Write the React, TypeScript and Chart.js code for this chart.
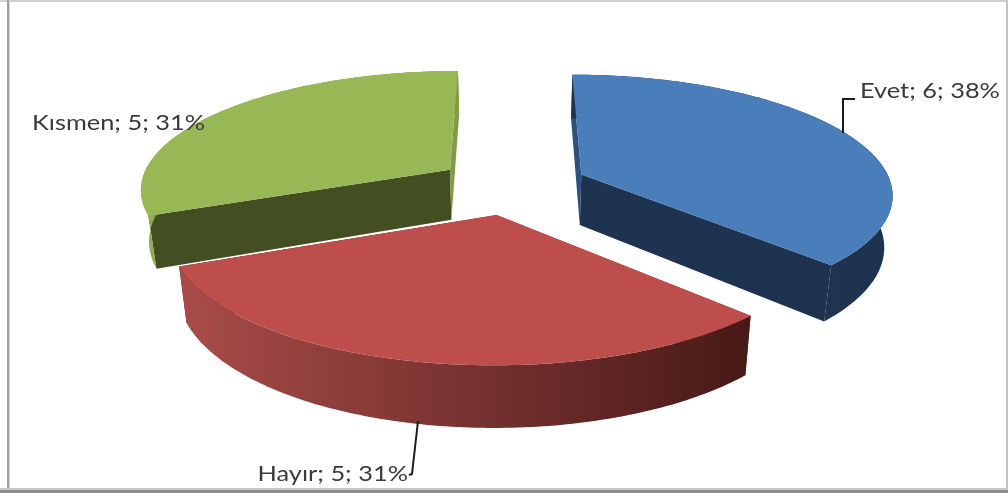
import React, { useEffect, useRef } from "react";
import { Chart, registerables } from "chart.js";

Chart.register(...registerables);

// Survey answers and their counts
const categories = ["Evet", "Hayır", "Kısmen"];
const counts = [6, 5, 5];

// Slice colours: top face, visible wall, cut faces at the slice's start and end edges
const topColors = ["#4a7ebb", "#bd4e4b", "#98b856"];
const wallColors = [
  ["#1e3450", "#1e3350"],
  ["#a94c49", "#471917"],
  ["#8fac4e", "#7f9c45"],
];
const startFaceColors = ["#2d517c", "#7a2e2c", "#434f22"];
const endFaceColors = ["#1e3350", "#4a1a18", "#7f9b47"];

// Projection of the tilted disc on the canvas
const view = {
  cx: 512,
  cy: 185.5,
  rx: 310.5,
  ry: 118,
  perspective: 0.15,
  explode: 0.245,
  depth: 51,
  baseShrink: 0.978,
};

type Pt = { x: number; y: number };

function project(u: number, v: number, base: boolean): Pt {
  const w = 1 - view.perspective * v;
  const sx = (view.rx * u) / w;
  const sy = (view.ry * v) / w;
  return base
    ? { x: view.cx + sx * view.baseShrink, y: view.cy + sy + view.depth / w }
    : { x: view.cx + sx, y: view.cy + sy };
}

function polygon(ctx: CanvasRenderingContext2D, pts: Pt[]) {
  ctx.beginPath();
  pts.forEach((p, i) => (i ? ctx.lineTo(p.x, p.y) : ctx.moveTo(p.x, p.y)));
  ctx.closePath();
}

// Replaces the flat arc drawing with an extruded slice for each Chart.js arc element
const tiltedPie = {
  id: "tiltedPie",
  beforeDatasetDraw(chart: any) {
    const ctx: CanvasRenderingContext2D = chart.ctx;
    const arcs = chart.getDatasetMeta(0).data.map((arc: any, index: number) => {
      const mid = (arc.startAngle + arc.endAngle) / 2;
      return { arc, index, mid };
    });
    arcs.sort((a: any, b: any) => Math.sin(a.mid) - Math.sin(b.mid));

    for (const { arc, index, mid } of arcs) {
      const ou = view.explode * Math.cos(mid);
      const ov = view.explode * Math.sin(mid);
      const rim = (base: boolean) => {
        const pts: Pt[] = [];
        const steps = 120;
        for (let i = 0; i <= steps; i++) {
          const a = arc.startAngle + ((arc.endAngle - arc.startAngle) * i) / steps;
          pts.push(project(ou + Math.cos(a), ov + Math.sin(a), base));
        }
        return pts;
      };
      const topRim = rim(false);
      const baseRim = rim(true);
      const apexTop = project(ou, ov, false);
      const apexBase = project(ou, ov, true);
      const last = topRim.length - 1;

      // Cut faces go first so the outer wall and the top sit over them
      ctx.fillStyle = startFaceColors[index];
      polygon(ctx, [apexTop, topRim[0], baseRim[0], apexBase]);
      ctx.fill();

      ctx.fillStyle = endFaceColors[index];
      polygon(ctx, [apexTop, topRim[last], baseRim[last], apexBase]);
      ctx.fill();

      const xs = topRim.concat(baseRim).map((p) => p.x);
      const wall = ctx.createLinearGradient(Math.min(...xs), 0, Math.max(...xs), 0);
      wall.addColorStop(0, wallColors[index][0]);
      wall.addColorStop(1, wallColors[index][1]);
      ctx.fillStyle = wall;
      polygon(ctx, topRim.concat(baseRim.slice().reverse()));
      ctx.fill();

      ctx.fillStyle = arc.options.backgroundColor;
      polygon(ctx, [apexTop, ...topRim]);
      ctx.fill();
    }
    return false;
  },
  afterDatasetsDraw(chart: any) {
    const ctx: CanvasRenderingContext2D = chart.ctx;
    const total = counts.reduce((s, n) => s + n, 0);
    const anchors = [
      { x: 860, y: 98, align: "left" },
      { x: 408, y: 481, align: "right" },
      { x: 32, y: 130, align: "left" },
    ];
    ctx.save();
    ctx.strokeStyle = "#1c1c1c";
    ctx.lineWidth = 2;
    ctx.beginPath();
    ctx.moveTo(843, 133);
    ctx.lineTo(843, 99);
    ctx.lineTo(855, 99);
    ctx.moveTo(418, 421);
    ctx.lineTo(412, 474);
    ctx.lineTo(409, 475);
    ctx.stroke();

    ctx.fillStyle = "#3a3a3a";
    ctx.font = "21.5px Lato";
    categories.forEach((name, i) => {
      const pct = Math.round((counts[i] / total) * 100);
      const a = anchors[i];
      ctx.save();
      ctx.translate(a.x, a.y);
      ctx.scale(1.18, 1);
      ctx.textAlign = a.align as CanvasTextAlign;
      ctx.fillText(`${name}; ${counts[i]}; ${pct}%`, 0, 0);
      ctx.restore();
    });
    ctx.restore();
  },
};

// Thin frame around the chart
const frame = {
  id: "frame",
  beforeDraw(chart: any) {
    const ctx: CanvasRenderingContext2D = chart.ctx;
    const { width, height } = chart;
    ctx.save();
    ctx.fillStyle = "#ffffff";
    ctx.fillRect(0, 0, width, height);
    ctx.fillStyle = "#d0d0d0";
    ctx.fillRect(0, 0, width, 2);
    ctx.fillStyle = "#a0a0a0";
    ctx.fillRect(7, 0, 2, height);
    ctx.fillStyle = "#d8d8d8";
    ctx.fillRect(9, 0, 1, height);
    ctx.fillStyle = "#c4c4c4";
    ctx.fillRect(width - 2, 0, 2, height);
    ctx.fillStyle = "#c8c8c8";
    ctx.fillRect(0, height - 5, width, 2);
    ctx.fillStyle = "#8c8c8c";
    ctx.fillRect(0, height - 3, width, 3);
    ctx.restore();
  },
};

export default function App() {
  const ref = useRef<HTMLCanvasElement>(null);
  useEffect(() => {
    const chart = new Chart(ref.current!, {
      type: "pie",
      data: {
        labels: categories,
        datasets: [{ data: counts, backgroundColor: topColors, borderWidth: 0 }],
      },
      options: {
        responsive: false,
        animation: false,
        plugins: { legend: { display: false }, tooltip: { enabled: false } },
      },
      plugins: [frame, tiltedPie],
    });
    return () => chart.destroy();
  }, []);
  return (
    <div style={{ position: "fixed", left: 0, top: 0, width: 1008, height: 493, overflow: "hidden" }}>
      <canvas ref={ref} width={1008} height={493} style={{ display: "block" }} />
    </div>
  );
}
